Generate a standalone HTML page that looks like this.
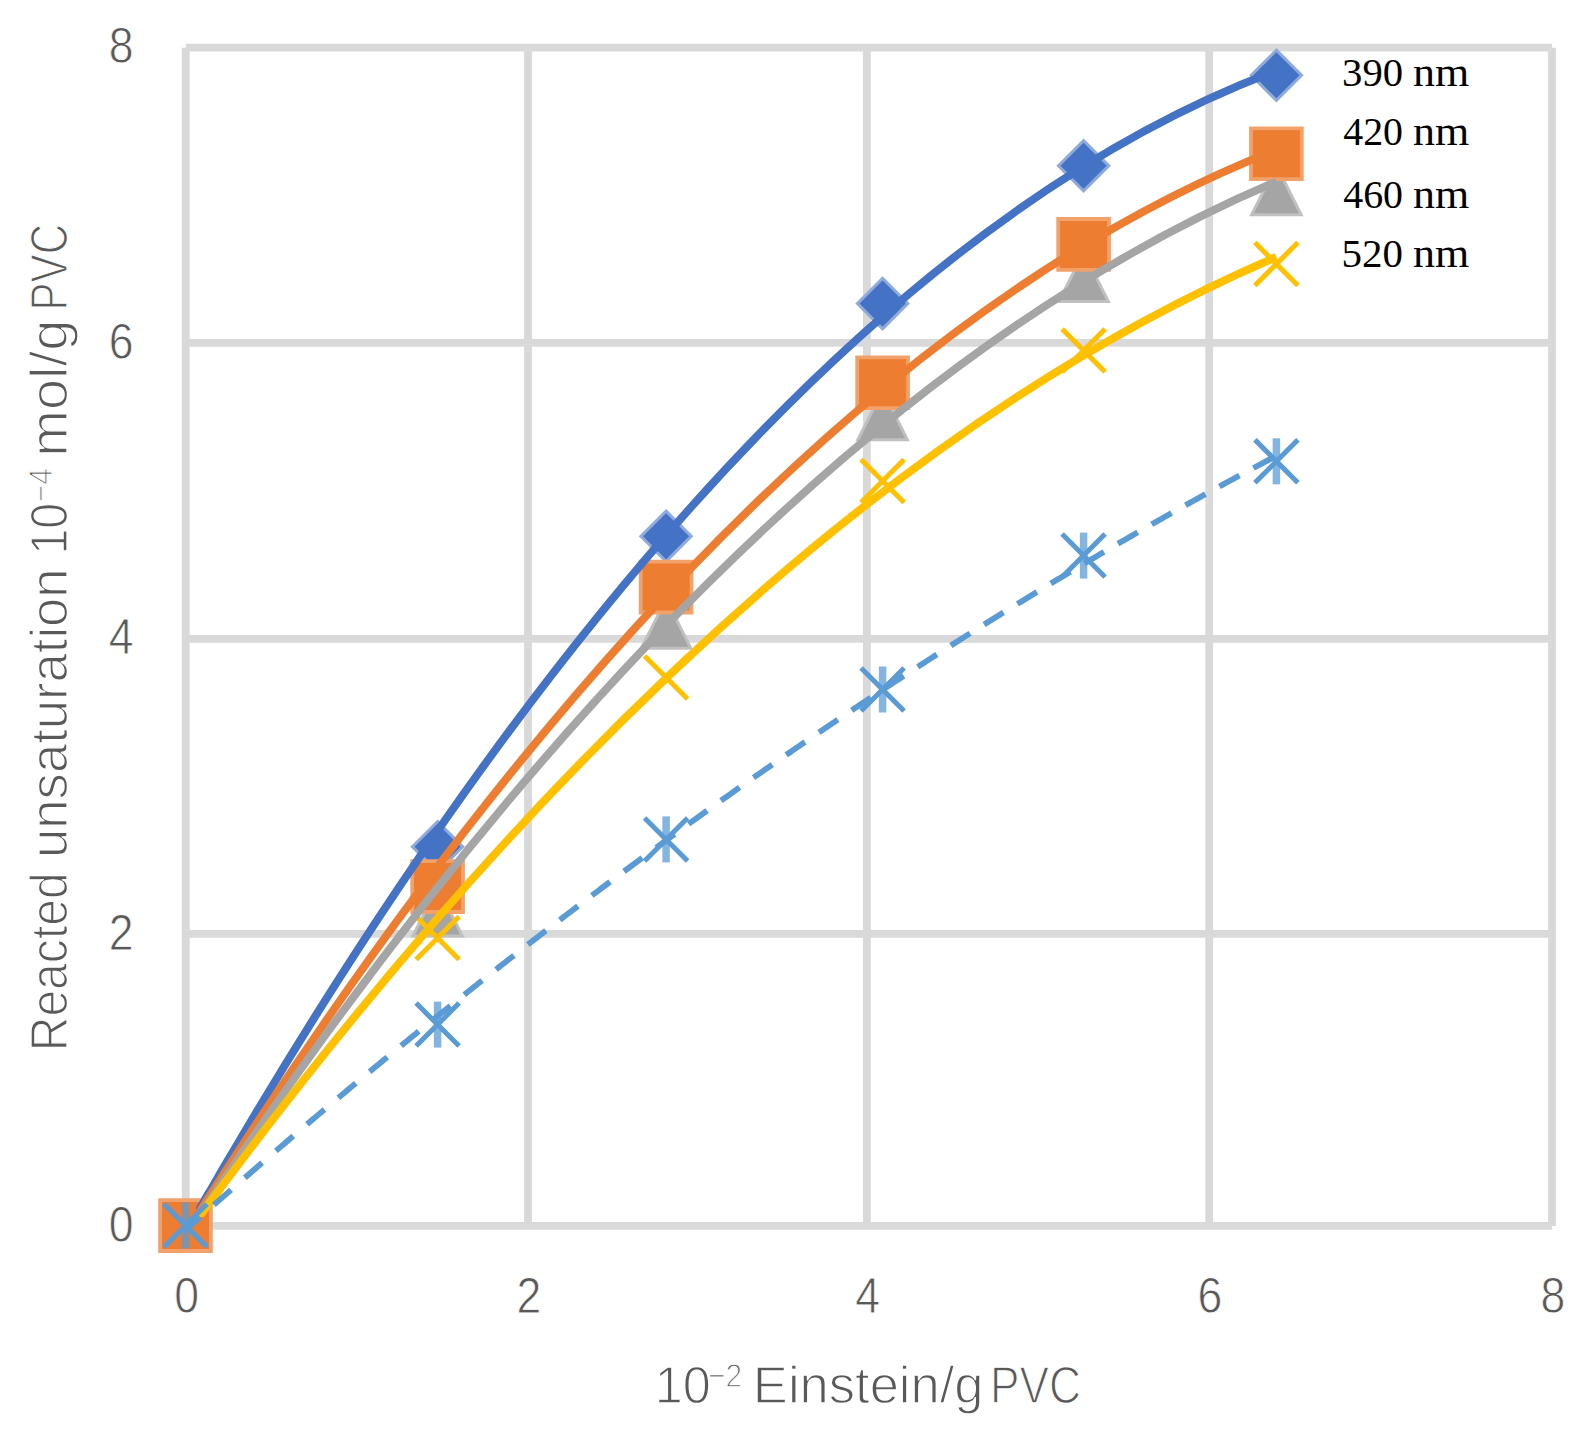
<!DOCTYPE html><html><head><meta charset="utf-8"><title>chart</title><style>html,body{margin:0;padding:0;background:#fff;overflow:hidden}svg{display:block}</style></head><body>
<svg width="1591" height="1433" viewBox="0 0 1591 1433">
<rect width="1591" height="1433" fill="#fff"/>
<g stroke="#d9d9d9" stroke-width="7.8" fill="none">
<line x1="185.75" y1="47.70" x2="185.75" y2="1225.90"/>
<line x1="528.00" y1="47.70" x2="528.00" y2="1225.90"/>
<line x1="866.90" y1="47.70" x2="866.90" y2="1225.90"/>
<line x1="1209.20" y1="47.70" x2="1209.20" y2="1225.90"/>
<line x1="1552.00" y1="47.70" x2="1552.00" y2="1225.90"/>
<line x1="185.75" y1="1225.90" x2="1552.00" y2="1225.90"/>
<line x1="185.75" y1="933.90" x2="1552.00" y2="933.90"/>
<line x1="185.75" y1="638.80" x2="1552.00" y2="638.80"/>
<line x1="185.75" y1="342.90" x2="1552.00" y2="342.90"/>
<line x1="185.75" y1="47.70" x2="1552.00" y2="47.70"/>
</g>
<g font-family="Liberation Sans, Arial, sans-serif" font-size="49.5" fill="#595959" stroke="#fff" stroke-width="0.8">
<text x="186.6" y="1312.5" text-anchor="middle" textLength="24.78" lengthAdjust="spacingAndGlyphs">0</text>
<text x="528.8" y="1312.5" text-anchor="middle" textLength="24.78" lengthAdjust="spacingAndGlyphs">2</text>
<text x="867.7" y="1312.5" text-anchor="middle" textLength="24.78" lengthAdjust="spacingAndGlyphs">4</text>
<text x="1210.0" y="1312.5" text-anchor="middle" textLength="24.78" lengthAdjust="spacingAndGlyphs">6</text>
<text x="1552.8" y="1312.5" text-anchor="middle" textLength="24.78" lengthAdjust="spacingAndGlyphs">8</text>
<text x="133.5" y="1241.5" text-anchor="end" textLength="24.78" lengthAdjust="spacingAndGlyphs">0</text>
<text x="133.5" y="949.5" text-anchor="end" textLength="24.78" lengthAdjust="spacingAndGlyphs">2</text>
<text x="133.5" y="654.4" text-anchor="end" textLength="24.78" lengthAdjust="spacingAndGlyphs">4</text>
<text x="133.5" y="358.5" text-anchor="end" textLength="24.78" lengthAdjust="spacingAndGlyphs">6</text>
<text x="133.5" y="63.3" text-anchor="end" textLength="24.78" lengthAdjust="spacingAndGlyphs">8</text>
</g>
<g fill="#595959" stroke="#fff" stroke-width="1.3">
<text x="654.76" y="1402.60" font-family="Liberation Sans, Arial, sans-serif" font-size="51.0" textLength="56.00" lengthAdjust="spacingAndGlyphs">10</text>
<text x="708.03" y="1386.50" font-family="Liberation Sans, Arial, sans-serif" font-size="33.4" textLength="33.97" lengthAdjust="spacingAndGlyphs">−2</text>
<text x="752.89" y="1402.60" font-family="Liberation Sans, Arial, sans-serif" font-size="51.0" textLength="230.69" lengthAdjust="spacingAndGlyphs">Einstein/g</text>
<text x="989.97" y="1402.60" font-family="Liberation Sans, Arial, sans-serif" font-size="51.0" textLength="90.91" lengthAdjust="spacingAndGlyphs">PVC</text>
</g>
<g fill="#595959" stroke="#fff" stroke-width="1.3" transform="rotate(-90)">
<text x="-1051.34" y="67.40" font-family="Liberation Sans, Arial, sans-serif" font-size="51.0" textLength="179.04" lengthAdjust="spacingAndGlyphs">Reacted</text>
<text x="-857.92" y="67.40" font-family="Liberation Sans, Arial, sans-serif" font-size="51.0" textLength="289.53" lengthAdjust="spacingAndGlyphs">unsaturation</text>
<text x="-554.54" y="67.40" font-family="Liberation Sans, Arial, sans-serif" font-size="51.0" textLength="51.65" lengthAdjust="spacingAndGlyphs">10</text>
<text x="-502.28" y="51.60" font-family="Liberation Sans, Arial, sans-serif" font-size="33.4" textLength="34.26" lengthAdjust="spacingAndGlyphs">−4</text>
<text x="-456.82" y="67.40" font-family="Liberation Sans, Arial, sans-serif" font-size="51.0" textLength="137.14" lengthAdjust="spacingAndGlyphs">mol/g</text>
<text x="-310.56" y="67.40" font-family="Liberation Sans, Arial, sans-serif" font-size="51.0" textLength="86.66" lengthAdjust="spacingAndGlyphs">PVC</text>
</g>
<path d="M185.50,1198.30 L212.80,1225.60 L185.50,1252.90 L158.20,1225.60 Z" fill="#8faadc"/><path d="M185.50,1202.54 L208.56,1225.60 L185.50,1248.66 L162.44,1225.60 Z" fill="#4472c4"/>
<path d="M437.60,819.50 L464.90,846.80 L437.60,874.10 L410.30,846.80 Z" fill="#8faadc"/><path d="M437.60,823.74 L460.66,846.80 L437.60,869.86 L414.54,846.80 Z" fill="#4472c4"/>
<path d="M666.10,509.00 L693.40,536.30 L666.10,563.60 L638.80,536.30 Z" fill="#8faadc"/><path d="M666.10,513.24 L689.16,536.30 L666.10,559.36 L643.04,536.30 Z" fill="#4472c4"/>
<path d="M882.60,276.30 L909.90,303.60 L882.60,330.90 L855.30,303.60 Z" fill="#8faadc"/><path d="M882.60,280.54 L905.66,303.60 L882.60,326.66 L859.54,303.60 Z" fill="#4472c4"/>
<path d="M1083.60,138.40 L1110.90,165.70 L1083.60,193.00 L1056.30,165.70 Z" fill="#8faadc"/><path d="M1083.60,142.64 L1106.66,165.70 L1083.60,188.76 L1060.54,165.70 Z" fill="#4472c4"/>
<path d="M1276.40,48.00 L1303.70,75.30 L1276.40,102.60 L1249.10,75.30 Z" fill="#8faadc"/><path d="M1276.40,52.24 L1299.46,75.30 L1276.40,98.36 L1253.34,75.30 Z" fill="#4472c4"/>
<path d="M185.50,1198.60 L212.70,1252.60 L158.30,1252.60 Z" fill="#c0c0c0"/><path d="M185.50,1205.27 L207.83,1249.60 L163.17,1249.60 Z" fill="#a5a5a5"/>
<path d="M437.60,883.40 L464.80,937.40 L410.40,937.40 Z" fill="#c0c0c0"/><path d="M437.60,890.07 L459.93,934.40 L415.27,934.40 Z" fill="#a5a5a5"/>
<path d="M666.10,595.70 L693.30,649.70 L638.90,649.70 Z" fill="#c0c0c0"/><path d="M666.10,602.37 L688.43,646.70 L643.77,646.70 Z" fill="#a5a5a5"/>
<path d="M882.60,387.30 L909.80,441.30 L855.40,441.30 Z" fill="#c0c0c0"/><path d="M882.60,393.97 L904.93,438.30 L860.27,438.30 Z" fill="#a5a5a5"/>
<path d="M1083.60,249.00 L1110.80,303.00 L1056.40,303.00 Z" fill="#c0c0c0"/><path d="M1083.60,255.67 L1105.93,300.00 L1061.27,300.00 Z" fill="#a5a5a5"/>
<path d="M1276.40,162.30 L1303.60,216.30 L1249.20,216.30 Z" fill="#c0c0c0"/><path d="M1276.40,168.97 L1298.73,213.30 L1254.07,213.30 Z" fill="#a5a5a5"/>
<path d="M416.1,916.5 L459.1,959.5 M416.1,959.5 L459.1,916.5" stroke="#ffc000" stroke-width="5" fill="none"/>
<path d="M644.6,655.9 L687.6,698.9 M644.6,698.9 L687.6,655.9" stroke="#ffc000" stroke-width="5" fill="none"/>
<path d="M861.1,459.5 L904.1,502.5 M861.1,502.5 L904.1,459.5" stroke="#ffc000" stroke-width="5" fill="none"/>
<path d="M1062.1,329.0 L1105.1,372.0 M1062.1,372.0 L1105.1,329.0" stroke="#ffc000" stroke-width="5" fill="none"/>
<path d="M1254.9,242.5 L1297.9,285.5 M1254.9,285.5 L1297.9,242.5" stroke="#ffc000" stroke-width="5" fill="none"/>
<path d="M410.30,859.30 L464.90,859.30 L464.90,913.90 L410.30,913.90 Z" fill="#f2a16b"/><path d="M414.10,863.10 L461.10,863.10 L461.10,910.10 L414.10,910.10 Z" fill="#ed7d31"/>
<path d="M638.80,559.80 L693.40,559.80 L693.40,614.40 L638.80,614.40 Z" fill="#f2a16b"/><path d="M642.60,563.60 L689.60,563.60 L689.60,610.60 L642.60,610.60 Z" fill="#ed7d31"/>
<path d="M855.30,355.50 L909.90,355.50 L909.90,410.10 L855.30,410.10 Z" fill="#f2a16b"/><path d="M859.10,359.30 L906.10,359.30 L906.10,406.30 L859.10,406.30 Z" fill="#ed7d31"/>
<path d="M1056.30,217.10 L1110.90,217.10 L1110.90,271.70 L1056.30,271.70 Z" fill="#f2a16b"/><path d="M1060.10,220.90 L1107.10,220.90 L1107.10,267.90 L1060.10,267.90 Z" fill="#ed7d31"/>
<path d="M1249.10,126.40 L1303.70,126.40 L1303.70,181.00 L1249.10,181.00 Z" fill="#f2a16b"/><path d="M1252.90,130.20 L1299.90,130.20 L1299.90,177.20 L1252.90,177.20 Z" fill="#ed7d31"/>
<defs><clipPath id="oc"><rect x="196" y="1190" width="30" height="27"/></clipPath></defs>
<path d="M185.50,1233.63 Q730.95,274.99 1276.40,70.61" stroke="#4472c4" stroke-width="8.0" fill="none"/>
<path d="M185.50,1234.16 Q730.95,363.20 1276.40,149.72" stroke="#ed7d31" stroke-width="8.0" fill="none"/>
<path d="M185.50,1236.71 Q730.95,412.22 1276.40,181.59" stroke="#a5a5a5" stroke-width="8.0" fill="none"/>
<path d="M185.50,1235.36 Q730.95,490.34 1276.40,256.99" stroke="#ffc000" stroke-width="8.0" fill="none"/>
<path d="M158.20,1198.30 L212.80,1198.30 L212.80,1252.90 L158.20,1252.90 Z" fill="#f2a16b"/><path d="M162.00,1202.10 L209.00,1202.10 L209.00,1249.10 L162.00,1249.10 Z" fill="#ed7d31"/>
<g clip-path="url(#oc)">
<path d="M185.50,1233.63 Q730.95,274.99 1276.40,70.61" stroke="#4472c4" stroke-width="8.0" fill="none"/>
<path d="M185.50,1234.16 Q730.95,363.20 1276.40,149.72" stroke="#ed7d31" stroke-width="8.0" fill="none"/>
<path d="M185.50,1236.71 Q730.95,412.22 1276.40,181.59" stroke="#a5a5a5" stroke-width="8.0" fill="none"/>
<path d="M185.50,1235.36 Q730.95,490.34 1276.40,256.99" stroke="#ffc000" stroke-width="8.0" fill="none"/>
</g>
<path d="M164.0,1204.1 L207.0,1247.1 M164.0,1247.1 L207.0,1204.1" stroke="#5b9bd5" stroke-width="5" fill="none"/><path d="M185.5,1202.6 L185.5,1248.6" stroke="#5b9bd5" stroke-opacity="0.75" stroke-width="7.5" fill="none"/>
<path d="M416.1,1003.1 L459.1,1046.1 M416.1,1046.1 L459.1,1003.1" stroke="#5b9bd5" stroke-width="5" fill="none"/><path d="M437.6,1001.6 L437.6,1047.6" stroke="#5b9bd5" stroke-opacity="0.75" stroke-width="7.5" fill="none"/>
<path d="M644.6,817.9 L687.6,860.9 M644.6,860.9 L687.6,817.9" stroke="#5b9bd5" stroke-width="5" fill="none"/><path d="M666.1,816.4 L666.1,862.4" stroke="#5b9bd5" stroke-opacity="0.75" stroke-width="7.5" fill="none"/>
<path d="M861.1,668.0 L904.1,711.0 M861.1,711.0 L904.1,668.0" stroke="#5b9bd5" stroke-width="5" fill="none"/><path d="M882.6,666.5 L882.6,712.5" stroke="#5b9bd5" stroke-opacity="0.75" stroke-width="7.5" fill="none"/>
<path d="M1062.1,534.1 L1105.1,577.1 M1062.1,577.1 L1105.1,534.1" stroke="#5b9bd5" stroke-width="5" fill="none"/><path d="M1083.6,532.6 L1083.6,578.6" stroke="#5b9bd5" stroke-opacity="0.75" stroke-width="7.5" fill="none"/>
<path d="M1254.9,439.8 L1297.9,482.8 M1254.9,482.8 L1297.9,439.8" stroke="#5b9bd5" stroke-width="5" fill="none"/><path d="M1276.4,438.3 L1276.4,484.3" stroke="#5b9bd5" stroke-opacity="0.75" stroke-width="7.5" fill="none"/>
<path d="M185.50,1230.04 L187.93,1227.88 L190.36,1225.72 L192.79,1223.56 L195.22,1221.40 L197.65,1219.24 L200.09,1217.09 M213.91,1204.88 L216.76,1202.37 L219.61,1199.86 L222.47,1197.35 L225.32,1194.84 L228.18,1192.34 L231.04,1189.83 M244.87,1177.76 L247.73,1175.27 L250.60,1172.77 L253.47,1170.28 L256.34,1167.79 L259.21,1165.30 L262.09,1162.82 M275.92,1150.88 L278.80,1148.40 L281.69,1145.92 L284.57,1143.45 L287.46,1140.97 L290.34,1138.50 L293.23,1136.03 M307.08,1124.23 L309.97,1121.77 L312.87,1119.31 L315.77,1116.85 L318.67,1114.40 L321.57,1111.94 L324.47,1109.49 M338.33,1097.82 L341.24,1095.38 L344.15,1092.94 L347.06,1090.50 L349.98,1088.06 L352.89,1085.62 L355.81,1083.19 M369.67,1071.66 L372.60,1069.23 L375.52,1066.81 L378.45,1064.39 L381.38,1061.97 L384.31,1059.55 L387.25,1057.13 M401.12,1045.74 L404.06,1043.33 L407.00,1040.93 L409.94,1038.52 L412.89,1036.12 L415.83,1033.72 L418.78,1031.32 M432.66,1020.07 L435.62,1017.68 L438.57,1015.29 L441.53,1012.91 L444.49,1010.53 L447.45,1008.14 L450.42,1005.76 M464.30,994.65 L467.27,992.28 L470.24,989.91 L473.22,987.55 L476.19,985.18 L479.17,982.82 L482.15,980.46 M496.04,969.48 L499.03,967.13 L502.02,964.79 L505.00,962.44 L508.00,960.09 L510.99,957.75 L513.98,955.41 M527.88,944.58 L530.88,942.24 L533.89,939.92 L536.89,937.59 L539.90,935.26 L542.90,932.94 L545.91,930.62 M559.82,919.93 L562.84,917.62 L565.86,915.31 L568.88,913.00 L571.90,910.70 L574.92,908.39 L577.94,906.09 M591.86,895.54 L594.89,893.25 L597.93,890.96 L600.96,888.68 L604.00,886.39 L607.04,884.11 L610.08,881.83 M624.00,871.42 L627.05,869.15 L630.10,866.88 L633.15,864.62 L636.20,862.35 L639.25,860.09 L642.31,857.83 M656.24,847.57 L659.30,845.32 L662.37,843.07 L665.43,840.83 L668.50,838.59 L671.57,836.35 L674.64,834.11 M688.58,823.99 L691.65,821.76 L694.73,819.54 L697.82,817.32 L700.90,815.09 L703.99,812.88 L707.07,810.66 M721.01,800.69 L724.11,798.48 L727.20,796.28 L730.30,794.08 L733.40,791.88 L736.50,789.68 L739.60,787.49 M753.55,777.66 L756.66,775.48 L759.77,773.30 L762.89,771.12 L766.00,768.94 L769.12,766.77 L772.24,764.60 M786.19,754.92 L789.32,752.76 L792.44,750.60 L795.57,748.45 L798.70,746.29 L801.84,744.14 L804.97,741.99 M818.93,732.46 L822.07,730.32 L825.21,728.19 L828.36,726.06 L831.51,723.93 L834.65,721.80 L837.80,719.67 M851.76,710.29 L854.92,708.18 L858.08,706.07 L861.24,703.96 L864.41,701.85 L867.57,699.75 L870.74,697.65 M884.70,688.41 L887.87,686.32 L891.05,684.24 L894.23,682.15 L897.41,680.07 L900.59,677.99 L903.77,675.91 M917.74,666.83 L920.93,664.77 L924.12,662.70 L927.31,660.64 L930.50,658.59 L933.70,656.53 L936.90,654.48 M950.87,645.55 L954.08,643.51 L957.28,641.47 L960.49,639.44 L963.70,637.40 L966.91,635.37 L970.13,633.35 M984.10,624.57 L987.32,622.55 L990.55,620.54 L993.77,618.53 L997.00,616.52 L1000.23,614.52 L1003.46,612.52 M1017.43,603.89 L1020.67,601.91 L1023.91,599.92 L1027.15,597.94 L1030.39,595.95 L1033.64,593.98 L1036.88,592.00 M1050.86,583.53 L1054.11,581.57 L1057.37,579.61 L1060.62,577.65 L1063.88,575.69 L1067.14,573.74 L1070.40,571.79 M1084.38,563.48 L1087.65,561.54 L1090.92,559.61 L1094.19,557.68 L1097.47,555.75 L1100.74,553.82 L1104.02,551.90 M1118.00,543.74 L1121.28,541.83 L1124.57,539.93 L1127.86,538.03 L1131.15,536.12 L1134.44,534.23 L1137.74,532.33 M1151.71,524.33 L1155.01,522.45 L1158.32,520.57 L1161.62,518.69 L1164.93,516.82 L1168.23,514.95 L1171.54,513.08 M1185.52,505.24 L1188.83,503.39 L1192.15,501.54 L1195.47,499.69 L1198.80,497.84 L1202.12,496.00 L1205.45,494.16 M1219.42,486.48 L1222.75,484.65 L1226.08,482.83 L1229.42,481.01 L1232.76,479.20 L1236.10,477.38 L1239.44,475.57 M1253.41,468.05 L1256.76,466.25 L1260.11,464.46 L1263.46,462.67 L1266.81,460.88 L1270.17,459.10 L1273.53,457.32" stroke="#5b9bd5" stroke-width="5.8" fill="none"/>
<g fill="#000">
<text x="1342.05" y="86.30" font-family="Liberation Serif, Times New Roman, serif" font-size="41.0" textLength="60.99" lengthAdjust="spacingAndGlyphs">390</text>
<text x="1412.99" y="86.30" font-family="Liberation Serif, Times New Roman, serif" font-size="41.0" textLength="56.20" lengthAdjust="spacingAndGlyphs">nm</text>
<text x="1343.22" y="145.00" font-family="Liberation Serif, Times New Roman, serif" font-size="41.0" textLength="59.80" lengthAdjust="spacingAndGlyphs">420</text>
<text x="1412.99" y="145.00" font-family="Liberation Serif, Times New Roman, serif" font-size="41.0" textLength="56.20" lengthAdjust="spacingAndGlyphs">nm</text>
<text x="1343.22" y="208.30" font-family="Liberation Serif, Times New Roman, serif" font-size="41.0" textLength="59.80" lengthAdjust="spacingAndGlyphs">460</text>
<text x="1412.99" y="208.30" font-family="Liberation Serif, Times New Roman, serif" font-size="41.0" textLength="56.20" lengthAdjust="spacingAndGlyphs">nm</text>
<text x="1341.62" y="267.40" font-family="Liberation Serif, Times New Roman, serif" font-size="41.0" textLength="61.44" lengthAdjust="spacingAndGlyphs">520</text>
<text x="1412.99" y="267.40" font-family="Liberation Serif, Times New Roman, serif" font-size="41.0" textLength="56.20" lengthAdjust="spacingAndGlyphs">nm</text>
</g>
</svg></body></html>
